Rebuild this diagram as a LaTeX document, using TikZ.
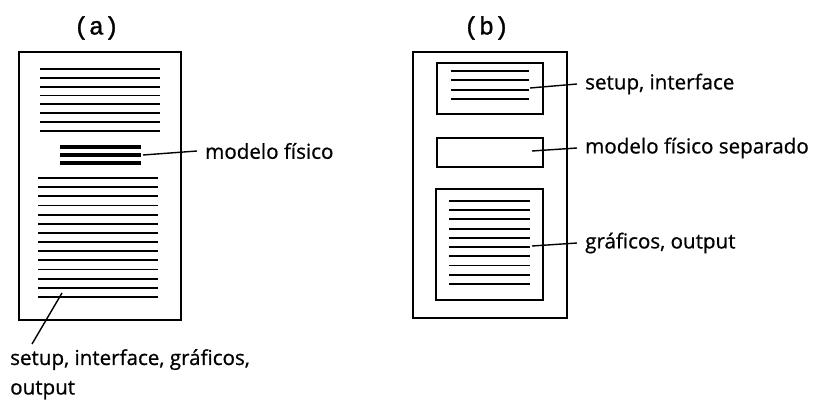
\documentclass[tikz,border=0pt]{standalone}
\usepackage{fontspec}
\setmainfont{Open Sans}[UprightFeatures={FakeBold=0.7}]
\newfontfamily\titlefont{Liberation Mono}[UprightFeatures={FakeBold=1.2}]
\begin{document}
\begin{tikzpicture}[x=1pt,y=-1pt,
  frame/.style={draw, rectangle, line width=1.6pt, inner sep=0pt},
  textline/.style={line width=1.9pt},
  boldline/.style={line width=4pt},
  leader/.style={line width=1.4pt},
  lbl/.style={font=\fontsize{20.6}{32}\selectfont, anchor=west, inner xsep=8pt, inner ysep=0pt},
  paneltitle/.style={font=\titlefont\fontsize{25}{28}\selectfont, inner sep=0pt}]
\useasboundingbox (0,0) rectangle (818,401);

% ---------- panel (a): one monolithic listing ----------
\node[paneltitle] (ta) at (96.5,28) {(a)};
\node[frame, minimum width=162pt, minimum height=268pt] (pa) at (100,186) {};
\foreach \i in {0,...,7}
  \draw[textline] (40,69+8.85*\i) -- (160,69+8.85*\i);
\foreach \i in {0,1,2}
  \draw[boldline] (60,147+8*\i) -- (141,147+8*\i);
\foreach \i in {0,...,13}
  \draw[textline] (38,178+9.15*\i) -- (158,178+9.15*\i);

\node[lbl] (ma) at (197,151) {modelo físico};
\coordinate (ma-src) at (143,155);
\draw[leader] (ma-src) -- (ma.west);

\node[font=\fontsize{20.6}{29.5}\selectfont, align=left, anchor=north west, inner sep=0pt]
  (sigo) at (10,349) {setup, interface, gráficos,\\output};
\coordinate (sigo-src) at (62,293);
\draw[leader] (sigo-src) -- ([xshift=22pt,yshift=5pt]sigo.north west);

% ---------- panel (b): separated parts ----------
\node[paneltitle] (tb) at (486.5,28) {(b)};
\node[frame, minimum width=154pt, minimum height=266pt] (pb) at (490,185) {};
\node[frame, minimum width=106pt, minimum height=51pt] (bsetup) at (490,88.5) {};
\node[frame, minimum width=106pt, minimum height=29pt] (bmodel) at (490,152.5) {};
\node[frame, minimum width=107pt, minimum height=111pt] (bgraph) at (489.5,244.5) {};

\foreach \i in {0,...,3}
  \draw[textline] (451,71+9.33*\i) -- (529,71+9.33*\i);
\foreach \i in {0,...,9}
  \draw[textline] (449,201+9.22*\i) -- (530,201+9.22*\i);

\node[lbl] (su) at (577,84) {setup, interface};
\coordinate (su-src) at (530,88);
\draw[leader] (su-src) -- (su.west);

\node[lbl] (mfs) at (577,148) {modelo físico separado};
\coordinate (mfs-src) at (532,151);
\draw[leader] (mfs-src) -- (mfs.west);

\node[lbl] (go) at (577,243) {gráficos, output};
\coordinate (go-src) at (532,246);
\draw[leader] (go-src) -- (go.west);
\end{tikzpicture}
\end{document}
